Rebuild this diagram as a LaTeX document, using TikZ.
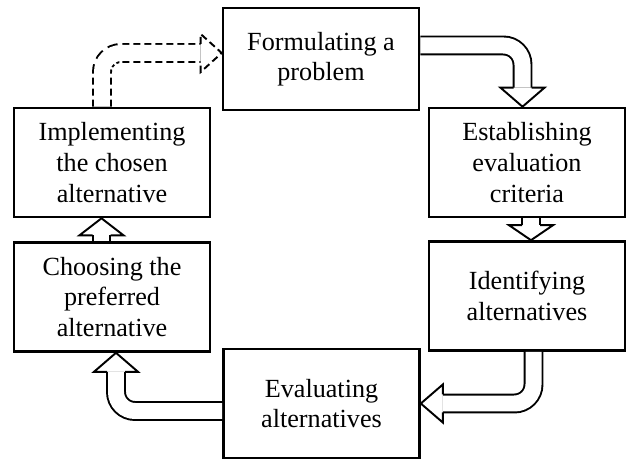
\documentclass[tikz,border=0pt]{standalone}
\usepackage{fontspec}
\setmainfont{Liberation Serif}
\usetikzlibrary{calc}

\begin{document}
\begin{tikzpicture}[x=0.02cm,y=-0.02cm,line join=miter]
      \tikzstyle{every node}=[font=\fontsize{14.9}{17.4}\selectfont]
      \tikzstyle{stage}=[draw, line width=1.5pt, align=center, minimum width=3.92cm, minimum height=2.18cm, inner sep=0pt]
      \tikzstyle{shaft}=[double, double distance=0.32cm, line width=1.1pt, rounded corners=0.38cm]
      \tikzstyle{head}=[line width=1.1pt]
      \tikzstyle{dashy}=[dash pattern=on 0.14cm off 0.08cm]
      \tikzstyle{gaps}=[white, line width=0.46cm, rounded corners=0.38cm, dash pattern=on 0.08cm off 0.14cm, dash phase=-0.1cm]
      \useasboundingbox (0,0) rectangle (626,459);
      % 
      \node [stage, minimum height=2.04cm] (form) at (321,59)    {Formulating a\\problem};
      \node [stage] (estab)  at (527,162.5) {Establishing\\evaluation\\criteria};
      \node [stage] (ident)  at (527,296)   {Identifying\\alternatives};
      \node [stage] (eval)   at (321.5,403.5) {Evaluating\\alternatives};
      \node [stage] (choose) at (112,297)   {Choosing the\\preferred\\alternative};
      \node [stage] (impl)   at (112,162.5) {Implementing\\the chosen\\alternative};
      % 
      \coordinate (h1) at ($(estab.north)+(-4.5,-19)$);
      \coordinate (h2) at ($(ident.north)+(4,-15)$);
      \coordinate (h3) at ($(eval.east)+(22,0)$);
      \coordinate (h4) at ($(choose.south)+(4,19)$);
      \coordinate (h5) at ($(impl.south)+(-10.5,17)$);
      \coordinate (h6) at ($(form.west)+(-21,-6)$);
      % 
      \draw [shaft] ($(form.east)+(0,-13.5)$) -| (h1);
      \draw [head] (h1) ++(-9,0) -- ++(-13,0) -- ++(22,19) -- ++(22,-19) -- ++(-13,0);
      \draw [shaft] ($(estab.south)+(4,0)$) -- (h2);
      \draw [head] (h2) ++(-9,0) -- ++(-13,0) -- ++(22,15) -- ++(22,-15) -- ++(-13,0);
      \draw [shaft] ($(ident.south)+(6.5,0)$) |- (h3);
      \draw [head] (h3) ++(0,-9) -- ++(0,-10) -- ++(-22,19) -- ++(22,19) -- ++(0,-10);
      \draw [shaft] ($(eval.west)+(0,7.5)$) -| (h4);
      \draw [head] (h4) ++(-9,0) -- ++(-13,0) -- ++(22,-19) -- ++(22,19) -- ++(-13,0);
      \draw [shaft] ($(choose.north)+(-10.5,0)$) -- (h5);
      \draw [head] (h5) ++(-9,0) -- ++(-13,0) -- ++(22,-17) -- ++(22,17) -- ++(-13,0);
      % dashed one: solid double, then cut gaps in it
      \draw [shaft] ($(impl.north)+(-10,0)$) |- (h6);
      \draw [gaps] ($(impl.north)+(-10,-2)$) |- (h6);
      \draw [head,dashy] (h6) ++(0,-9) -- ++(0,-10) -- ++(21,19) -- ++(-21,19) -- ++(0,-10);
\end{tikzpicture}
\end{document}
